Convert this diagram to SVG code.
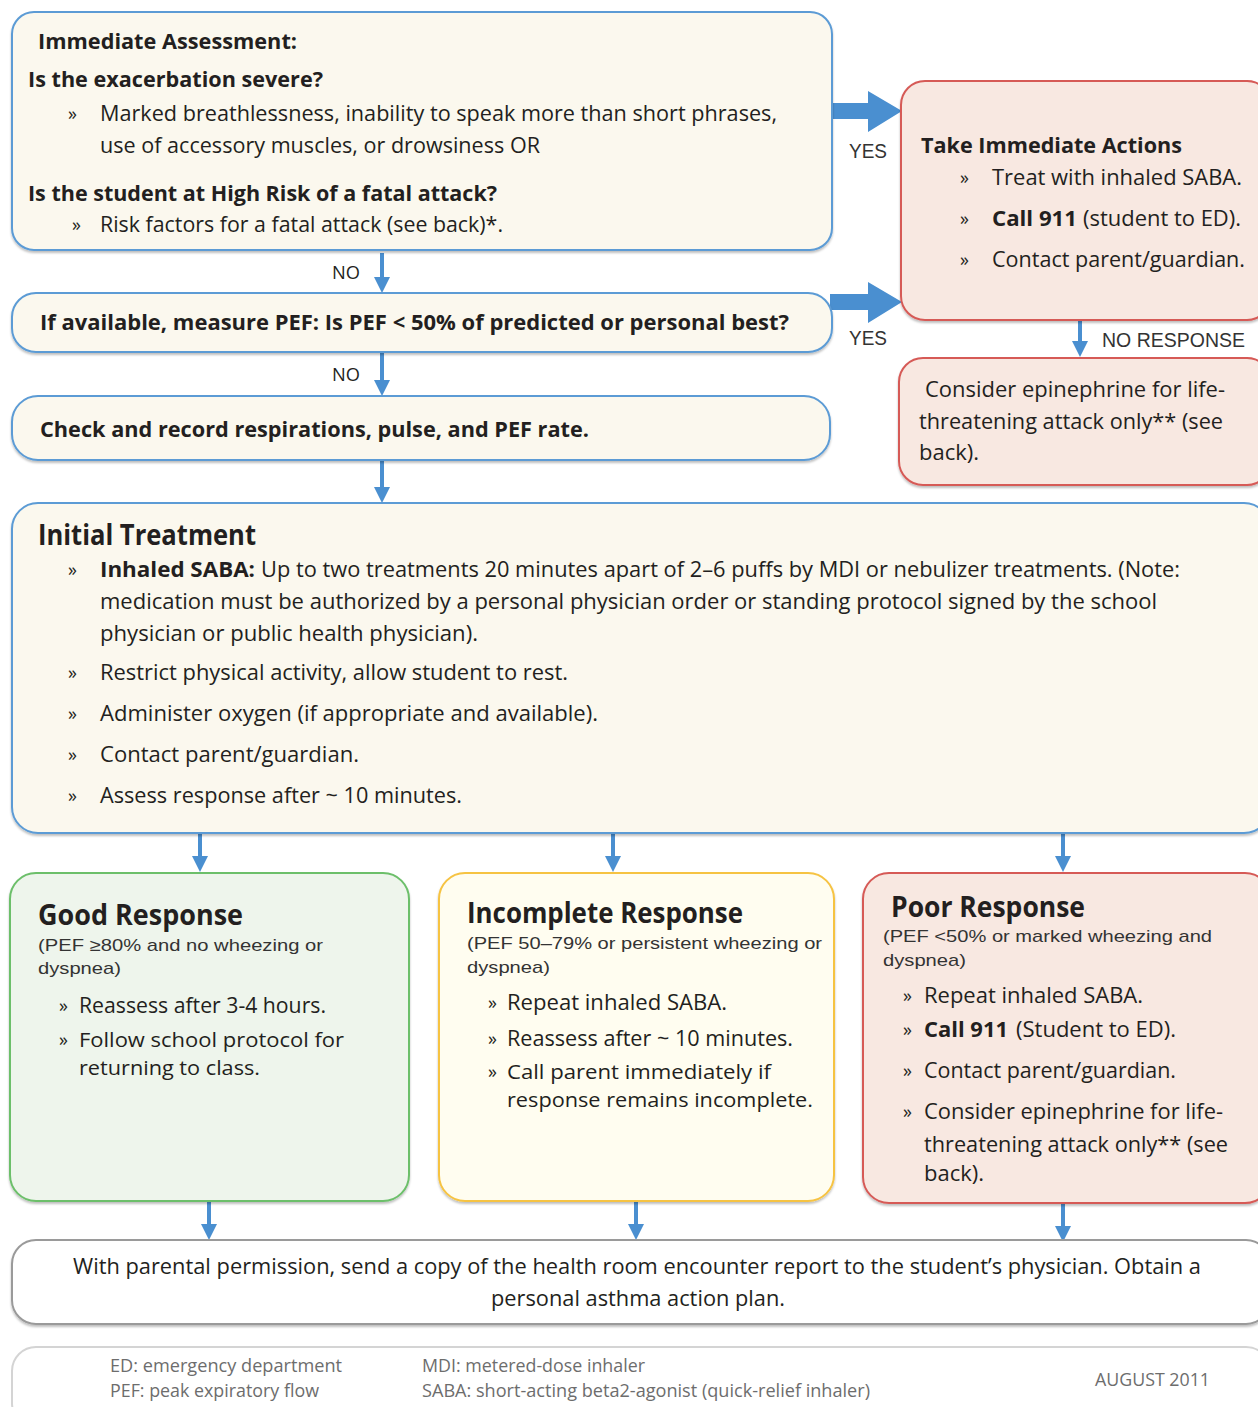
<svg xmlns="http://www.w3.org/2000/svg" width="1258" height="1407" viewBox="0 0 1258 1407">
<style>
.bb{fill:#fbf8ee;stroke:#5b9bd5;stroke-width:2}
.br{fill:#f8e8e1;stroke:#d65a57;stroke-width:2}
.bg{fill:#eef5ec;stroke:#6cbf6a;stroke-width:2}
.by{fill:#fffdf0;stroke:#f6c343;stroke-width:2}
.bw{fill:#ffffff;stroke:#9a9a9a;stroke-width:2}
.bl{fill:#ffffff;stroke:#d4d4d4;stroke-width:2}
.t{font-family:"Open Sans","Noto Sans",sans-serif;fill:#231f20;font-size:22px}
.b{font-weight:bold}
.h{font-size:28px;font-weight:bold}
.u{font-size:18px}
.s{font-size:20px}
.p{font-family:"Liberation Sans",Arial,sans-serif;font-size:17px;fill:#333333}
.lab{font-family:"Liberation Sans",Arial,sans-serif;font-size:20px;fill:#333333}
.no{font-size:18px}
.f{font-size:19px;fill:#6d6d6d}
.conn{stroke:#4a8fd0;stroke-width:4;fill:none}
.big{fill:#4a8fd0}
</style>
<defs>
<marker id="ah" markerUnits="userSpaceOnUse" markerWidth="16" markerHeight="16" refX="0" refY="8" orient="auto">
<path d="M0,0 L16,8 L0,16 z" fill="#4a8fd0"/>
</marker>
<filter id="sh" x="-5%" y="-5%" width="110%" height="115%">
<feDropShadow dx="0" dy="2" stdDeviation="1.2" flood-color="#000" flood-opacity="0.25"/>
</filter>
</defs>
<rect width="1258" height="1407" fill="#ffffff"/>

<g id="connectors">
<line class="conn" x1="382" y1="253" x2="382" y2="277" marker-end="url(#ah)"/>
<text class="t no" x="332" y="279" textLength="28" lengthAdjust="spacingAndGlyphs">NO</text>
<line class="conn" x1="382" y1="353" x2="382" y2="380" marker-end="url(#ah)"/>
<text class="t no" x="332" y="381" textLength="28" lengthAdjust="spacingAndGlyphs">NO</text>
<line class="conn" x1="382" y1="461" x2="382" y2="487" marker-end="url(#ah)"/>
<line class="conn" x1="200" y1="834" x2="200" y2="856" marker-end="url(#ah)"/>
<line class="conn" x1="613" y1="834" x2="613" y2="856" marker-end="url(#ah)"/>
<line class="conn" x1="1063" y1="834" x2="1063" y2="856" marker-end="url(#ah)"/>
<line class="conn" x1="209" y1="1202" x2="209" y2="1224" marker-end="url(#ah)"/>
<line class="conn" x1="636" y1="1202" x2="636" y2="1224" marker-end="url(#ah)"/>
<line class="conn" x1="1063" y1="1204" x2="1063" y2="1226" marker-end="url(#ah)"/>
<line class="conn" x1="1080" y1="321" x2="1080" y2="341" marker-end="url(#ah)"/>
<text class="lab" x="1102" y="347" textLength="143" lengthAdjust="spacingAndGlyphs">NO RESPONSE</text>
<polygon class="big" points="833,103 868,103 868,91 902,111 868,132 868,119 833,119"/>
<text class="lab" x="849" y="158" textLength="38" lengthAdjust="spacingAndGlyphs">YES</text>
<polygon class="big" points="830,294 868,294 868,282 902,302 868,323 868,310 830,310"/>
<text class="lab" x="849" y="345" textLength="38" lengthAdjust="spacingAndGlyphs">YES</text>
</g>

<g id="immediate-assessment">
<rect class="bb" filter="url(#sh)" x="12" y="12" width="820" height="238" rx="22"/>
<text class="t b" x="38" y="49" textLength="259" lengthAdjust="spacingAndGlyphs">Immediate Assessment:</text>
<text class="t b" x="28" y="87" textLength="295" lengthAdjust="spacingAndGlyphs">Is the exacerbation severe?</text>
<text class="t u" x="68" y="120">»</text>
<text class="t" x="100" y="121" textLength="677" lengthAdjust="spacingAndGlyphs">Marked breathlessness, inability to speak more than short phrases,</text>
<text class="t" x="100" y="153" textLength="440" lengthAdjust="spacingAndGlyphs">use of accessory muscles, or drowsiness OR</text>
<text class="t b" x="28" y="201" textLength="469" lengthAdjust="spacingAndGlyphs">Is the student at High Risk of a fatal attack?</text>
<text class="t u" x="72" y="231">»</text>
<text class="t" x="100" y="232" textLength="403" lengthAdjust="spacingAndGlyphs">Risk factors for a fatal attack (see back)*.</text>
</g>

<g id="immediate-actions">
<rect class="br" filter="url(#sh)" x="901" y="81" width="370" height="239" rx="24"/>
<text class="t b" x="921" y="153" textLength="261" lengthAdjust="spacingAndGlyphs">Take Immediate Actions</text>
<text class="t u" x="960" y="184">»</text>
<text class="t" x="992" y="185" textLength="250" lengthAdjust="spacingAndGlyphs">Treat with inhaled SABA.</text>
<text class="t u" x="960" y="225">»</text>
<text class="t b" x="992" y="226" textLength="85" lengthAdjust="spacingAndGlyphs">Call 911</text>
<text class="t" x="1083" y="226" textLength="158" lengthAdjust="spacingAndGlyphs">(student to ED).</text>
<text class="t u" x="960" y="266">»</text>
<text class="t" x="992" y="267" textLength="253" lengthAdjust="spacingAndGlyphs">Contact parent/guardian.</text>
</g>

<g id="pef-check">
<rect class="bb" filter="url(#sh)" x="12" y="293" width="820" height="59" rx="24"/>
<text class="t b" x="40" y="330" textLength="749" lengthAdjust="spacingAndGlyphs">If available, measure PEF: Is PEF &lt; 50% of predicted or personal best?</text>
</g>

<g id="epinephrine">
<rect class="br" filter="url(#sh)" x="899" y="358" width="372" height="127" rx="24"/>
<text class="t" x="925" y="397" textLength="300" lengthAdjust="spacingAndGlyphs">Consider epinephrine for life-</text>
<text class="t" x="919" y="429" textLength="304" lengthAdjust="spacingAndGlyphs">threatening attack only** (see</text>
<text class="t" x="919" y="460" textLength="60" lengthAdjust="spacingAndGlyphs">back).</text>
</g>

<g id="record-vitals">
<rect class="bb" filter="url(#sh)" x="12" y="396" width="818" height="64" rx="26"/>
<text class="t b" x="40" y="437" textLength="549" lengthAdjust="spacingAndGlyphs">Check and record respirations, pulse, and PEF rate.</text>
</g>

<g id="initial-treatment">
<rect class="bb" filter="url(#sh)" x="12" y="503" width="1258" height="330" rx="26"/>
<text class="t h" x="38" y="545" textLength="218" lengthAdjust="spacingAndGlyphs">Initial Treatment</text>
<text class="t u" x="68" y="576">»</text>
<text class="t b" x="100" y="577" textLength="155" lengthAdjust="spacingAndGlyphs">Inhaled SABA:</text>
<text class="t" x="261" y="577" textLength="919" lengthAdjust="spacingAndGlyphs">Up to two treatments 20 minutes apart of 2–6 puffs by MDI or nebulizer treatments. (Note:</text>
<text class="t" x="100" y="609" textLength="1057" lengthAdjust="spacingAndGlyphs">medication must be authorized by a personal physician order or standing protocol signed by the school</text>
<text class="t" x="100" y="641" textLength="378" lengthAdjust="spacingAndGlyphs">physician or public health physician).</text>
<text class="t u" x="68" y="679">»</text>
<text class="t" x="100" y="680" textLength="468" lengthAdjust="spacingAndGlyphs">Restrict physical activity, allow student to rest.</text>
<text class="t u" x="68" y="720">»</text>
<text class="t" x="100" y="721" textLength="498" lengthAdjust="spacingAndGlyphs">Administer oxygen (if appropriate and available).</text>
<text class="t u" x="68" y="761">»</text>
<text class="t" x="100" y="762" textLength="259" lengthAdjust="spacingAndGlyphs">Contact parent/guardian.</text>
<text class="t u" x="68" y="802">»</text>
<text class="t" x="100" y="803" textLength="362" lengthAdjust="spacingAndGlyphs">Assess response after ~ 10 minutes.</text>
</g>

<g id="good-response">
<rect class="bg" filter="url(#sh)" x="10" y="873" width="399" height="328" rx="26"/>
<text class="t h" x="38" y="925" textLength="205" lengthAdjust="spacingAndGlyphs">Good Response</text>
<text class="p" x="38" y="951" textLength="285" lengthAdjust="spacingAndGlyphs">(PEF ≥80% and no wheezing or</text>
<text class="p" x="38" y="974" textLength="83" lengthAdjust="spacingAndGlyphs">dyspnea)</text>
<text class="t u" x="59" y="1012">»</text>
<text class="t" x="79" y="1013" textLength="247" lengthAdjust="spacingAndGlyphs">Reassess after 3-4 hours.</text>
<text class="t u" x="59" y="1046">»</text>
<text class="t s" x="79" y="1047" textLength="265" lengthAdjust="spacingAndGlyphs">Follow school protocol for</text>
<text class="t s" x="79" y="1075" textLength="181" lengthAdjust="spacingAndGlyphs">returning to class.</text>
</g>

<g id="incomplete-response">
<rect class="by" filter="url(#sh)" x="439" y="873" width="395" height="328" rx="26"/>
<text class="t h" x="467" y="923" textLength="276" lengthAdjust="spacingAndGlyphs">Incomplete Response</text>
<text class="p" x="467" y="949" textLength="355" lengthAdjust="spacingAndGlyphs">(PEF 50–79% or persistent wheezing or</text>
<text class="p" x="467" y="973" textLength="83" lengthAdjust="spacingAndGlyphs">dyspnea)</text>
<text class="t u" x="488" y="1009">»</text>
<text class="t" x="507" y="1010" textLength="220" lengthAdjust="spacingAndGlyphs">Repeat inhaled SABA.</text>
<text class="t u" x="488" y="1045">»</text>
<text class="t" x="507" y="1046" textLength="286" lengthAdjust="spacingAndGlyphs">Reassess after ~ 10 minutes.</text>
<text class="t u" x="488" y="1078">»</text>
<text class="t s" x="507" y="1079" textLength="264" lengthAdjust="spacingAndGlyphs">Call parent immediately if</text>
<text class="t s" x="507" y="1107" textLength="306" lengthAdjust="spacingAndGlyphs">response remains incomplete.</text>
</g>

<g id="poor-response">
<rect class="br" filter="url(#sh)" x="863" y="873" width="408" height="330" rx="26"/>
<text class="t h" x="891" y="917" textLength="194" lengthAdjust="spacingAndGlyphs">Poor Response</text>
<text class="p" x="883" y="942" textLength="329" lengthAdjust="spacingAndGlyphs">(PEF &lt;50% or marked wheezing and</text>
<text class="p" x="883" y="966" textLength="83" lengthAdjust="spacingAndGlyphs">dyspnea)</text>
<text class="t u" x="903" y="1002">»</text>
<text class="t" x="924" y="1003" textLength="219" lengthAdjust="spacingAndGlyphs">Repeat inhaled SABA.</text>
<text class="t u" x="903" y="1036">»</text>
<text class="t b" x="924" y="1037" textLength="84" lengthAdjust="spacingAndGlyphs">Call 911</text>
<text class="t" x="1016" y="1037" textLength="160" lengthAdjust="spacingAndGlyphs">(Student to ED).</text>
<text class="t u" x="903" y="1077">»</text>
<text class="t" x="924" y="1078" textLength="252" lengthAdjust="spacingAndGlyphs">Contact parent/guardian.</text>
<text class="t u" x="903" y="1118">»</text>
<text class="t" x="924" y="1119" textLength="299" lengthAdjust="spacingAndGlyphs">Consider epinephrine for life-</text>
<text class="t" x="924" y="1152" textLength="304" lengthAdjust="spacingAndGlyphs">threatening attack only** (see</text>
<text class="t" x="924" y="1181" textLength="60" lengthAdjust="spacingAndGlyphs">back).</text>
</g>

<g id="physician-report">
<rect class="bw" filter="url(#sh)" x="12" y="1240" width="1258" height="84" rx="24"/>
<text class="t" x="73" y="1274" textLength="1128" lengthAdjust="spacingAndGlyphs">With parental permission, send a copy of the health room encounter report to the student’s physician. Obtain a</text>
<text class="t" x="491" y="1306" textLength="294" lengthAdjust="spacingAndGlyphs">personal asthma action plan.</text>
</g>

<g id="footer">
<rect class="bl" x="12" y="1347" width="1258" height="80" rx="24"/>
<text class="t f" x="110" y="1372" textLength="232" lengthAdjust="spacingAndGlyphs">ED: emergency department</text>
<text class="t f" x="110" y="1397" textLength="209" lengthAdjust="spacingAndGlyphs">PEF: peak expiratory flow</text>
<text class="t f" x="422" y="1372" textLength="223" lengthAdjust="spacingAndGlyphs">MDI: metered-dose inhaler</text>
<text class="t f" x="422" y="1397" textLength="448" lengthAdjust="spacingAndGlyphs">SABA: short-acting beta2-agonist (quick-relief inhaler)</text>
<text class="t f" x="1095" y="1386" textLength="115" lengthAdjust="spacingAndGlyphs">AUGUST 2011</text>
</g>
</svg>
